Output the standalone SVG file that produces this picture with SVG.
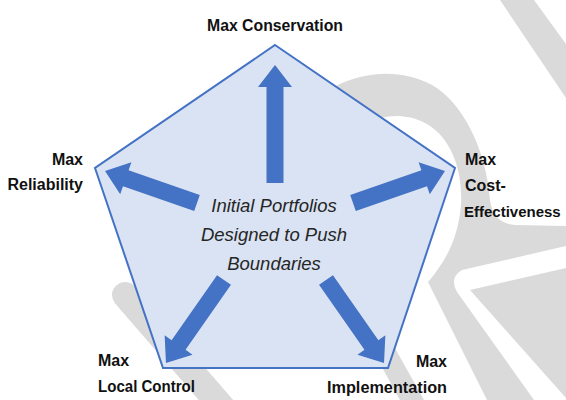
<svg xmlns="http://www.w3.org/2000/svg" width="566" height="400" viewBox="0 0 566 400">
  <style>
    .wm { fill: #dadada; stroke: none; }
    .wms { fill: none; stroke: #dadada; stroke-linecap: round; }
    .pent { fill: #dae3f3; stroke: #4472c4; stroke-width: 2; stroke-linejoin: miter; }
    .arrow { fill: #4472c4; stroke: none; }
    .lbl { font-family: "Liberation Sans", Arial, sans-serif; font-weight: bold; font-size: 16px; fill: #111111; }
    .ctr { font-family: "Liberation Sans", Arial, sans-serif; font-style: italic; font-size: 18.5px; fill: #262626; text-anchor: middle; }
  </style>
  <rect width="566" height="400" fill="#ffffff"/>
  <!-- background watermark -->
  <g id="watermark">
    <polygon class="wm" points="500,0 534,0 566,44 566,98"/>
    <path class="wm" d="M 318,98 C 340,78 390,62 432,85 C 462,102 486,148 490,200 C 492,215 500,224 515,225 L 566,226 L 566,246 L 462,270 Q 449,278 457,292 L 534,400 L 487,400 L 428,282 C 445,262 458,240 461,205 C 463,165 448,135 425,123 C 405,113 385,115 370,122 L 330,140 Z"/>
    <polygon class="wm" points="470,290 566,268 566,398"/>
    <polygon class="wm" points="345,300 368,300 424,400 400,400"/>
    <path class="wms" stroke-width="26" d="M 125,295 L 235,422"/>
  </g>
  <g id="pentagon">
    <polygon class="pent" points="275,45 455,168 388,368 163,368 95,168"/>
  </g>
  <g id="connectors">
    <path class="arrow" transform="translate(275,183) rotate(-90)" d="M0,-8.5 L96,-8.5 L96,-17 L118,0 L96,17 L96,8.5 L0,8.5 Z"/>
    <path class="arrow" transform="translate(197,203) rotate(199.2)" d="M0,-8.5 L75.4,-8.5 L75.4,-17 L97.4,0 L75.4,17 L75.4,8.5 L0,8.5 Z"/>
    <path class="arrow" transform="translate(353,203) rotate(-19.2)" d="M0,-8.5 L75.4,-8.5 L75.4,-17 L97.4,0 L75.4,17 L75.4,8.5 L0,8.5 Z"/>
    <path class="arrow" transform="translate(224,280) rotate(124.95)" d="M0,-8.5 L79.3,-8.5 L79.3,-17 L101.3,0 L79.3,17 L79.3,8.5 L0,8.5 Z"/>
    <path class="arrow" transform="translate(326,280) rotate(55.05)" d="M0,-8.5 L79.3,-8.5 L79.3,-17 L101.3,0 L79.3,17 L79.3,8.5 L0,8.5 Z"/>
  </g>
  <g id="center-label">
    <text class="ctr" x="274" y="212">Initial Portfolios</text>
    <text class="ctr" x="274" y="241">Designed to Push</text>
    <text class="ctr" x="274" y="270">Boundaries</text>
  </g>
  <g id="node-conservation">
    <text class="lbl" x="275" y="31" text-anchor="middle" textLength="136" lengthAdjust="spacingAndGlyphs">Max Conservation</text>
  </g>
  <g id="node-reliability">
    <text class="lbl" x="83" y="165" text-anchor="end">Max</text>
    <text class="lbl" x="83" y="190" text-anchor="end">Reliability</text>
  </g>
  <g id="node-cost">
    <text class="lbl" x="465" y="165">Max</text>
    <text class="lbl" x="465" y="191">Cost-</text>
    <text class="lbl" x="464" y="217" style="font-size:15px">Effectiveness</text>
  </g>
  <g id="node-local">
    <text class="lbl" x="98" y="366">Max</text>
    <text class="lbl" x="98" y="392" textLength="97" lengthAdjust="spacingAndGlyphs">Local Control</text>
  </g>
  <g id="node-implementation">
    <text class="lbl" x="447" y="367" text-anchor="end">Max</text>
    <text class="lbl" x="447" y="393" text-anchor="end" textLength="120" lengthAdjust="spacingAndGlyphs">Implementation</text>
  </g>
</svg>
